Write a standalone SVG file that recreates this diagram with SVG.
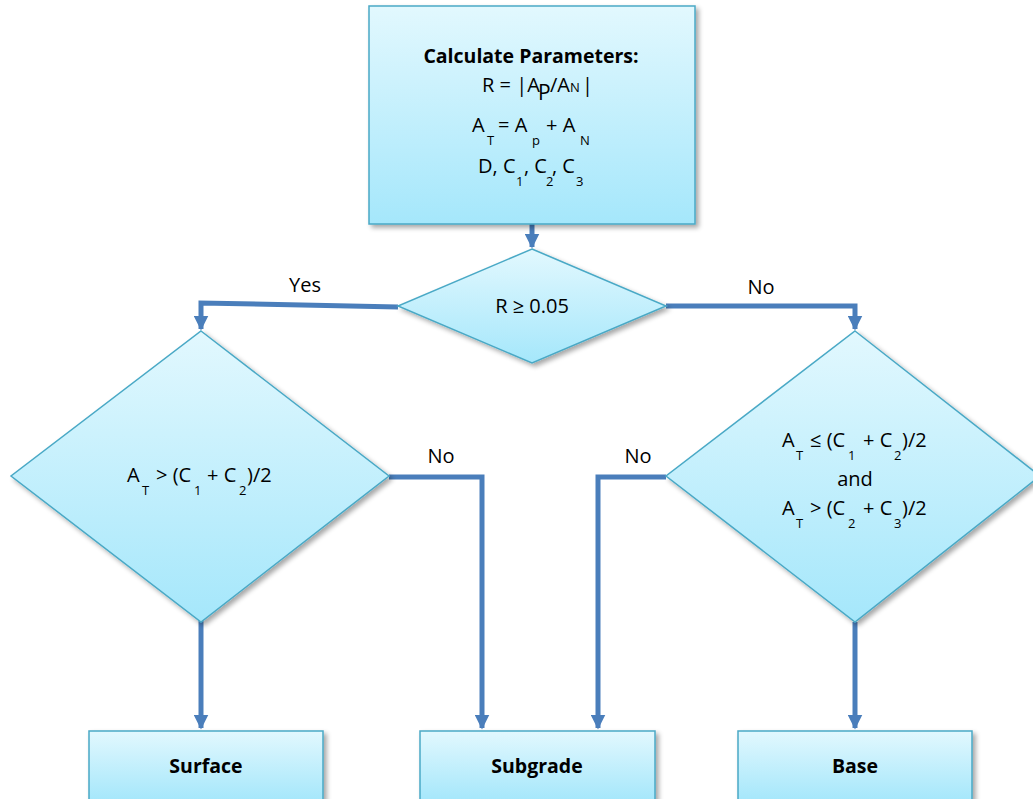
<svg xmlns="http://www.w3.org/2000/svg" width="1033" height="799" viewBox="0 0 1033 799">
<defs>
<linearGradient id="g" x1="0" y1="0" x2="0" y2="1">
<stop offset="0" stop-color="#e2f8fe"/>
<stop offset="1" stop-color="#a5e7fb"/>
</linearGradient>
<filter id="sh" x="-10%" y="-10%" width="130%" height="130%">
<feGaussianBlur in="SourceAlpha" stdDeviation="2.5"/>
<feOffset dx="3" dy="3"/>
<feComponentTransfer><feFuncA type="linear" slope="0.35"/></feComponentTransfer>
<feMerge><feMergeNode/><feMergeNode in="SourceGraphic"/></feMerge>
</filter>
<marker id="ah" viewBox="0 0 10 10" refX="9" refY="5" markerWidth="3" markerHeight="3" orient="auto" markerUnits="strokeWidth">
<path d="M0,0 L10,5 L0,10 z" fill="#4a7ebb"/>
</marker>
</defs>
<style>
.n{fill:url(#g);stroke:#4aa9c6;stroke-width:1.5;filter:url(#sh)}
.c{fill:none;stroke:#4a7ebb;stroke-width:5;marker-end:url(#ah)}
text{font-family:"Open Sans","Noto Sans","Liberation Sans",sans-serif;fill:#000;font-size:20px}
.b{font-weight:bold;font-size:19.5px}
.s{font-size:13px}
.m{text-anchor:middle}
</style>
<g id="connectors">
<path class="c" d="M532,224 V247"/>
<path class="c" d="M398,307 L201,303 V329"/>
<path class="c" d="M666,306 H855 V329"/>
<path class="c" d="M389,477 H482 V728"/>
<path class="c" d="M666,477 H598 V728"/>
<path class="c" d="M201,620 V728"/>
<path class="c" d="M855,622 V728"/>
<text class="m" x="305" y="292">Yes</text>
<text class="m" x="761" y="294">No</text>
<text class="m" x="441" y="463">No</text>
<text class="m" x="638" y="463">No</text>
</g>
<g id="params">
<rect class="n" x="369" y="6" width="326" height="218"/>
<text class="b m" x="531" y="63">Calculate Parameters:</text>
<text x="482" y="92">R = |A<tspan x="538" y="100" font-size="21">P</tspan><tspan x="550" y="92">/A</tspan><tspan x="570" y="92" class="s">N</tspan><tspan x="582" y="92">|</tspan></text>
<text x="472" y="132">A<tspan class="s" x="487" y="145">T</tspan><tspan x="498" y="132">= A</tspan><tspan class="s" x="532" y="145">p</tspan><tspan x="546" y="132">+ A</tspan><tspan class="s" x="580" y="145">N</tspan></text>
<text x="478" y="173">D, C<tspan class="s" x="516" y="186">1</tspan><tspan x="524" y="173">, C</tspan><tspan class="s" x="546" y="186">2</tspan><tspan x="552" y="173">, C</tspan><tspan class="s" x="576" y="186">3</tspan></text>
</g>
<g id="d1">
<polygon class="n" points="532,249 666,306 532,363 398,306"/>
<text class="m" x="532" y="313">R ≥ 0.05</text>
</g>
<g id="d2">
<polygon class="n" points="201,331 389,476 201,622 11,476"/>
<text x="127" y="482">A<tspan class="s" x="142" y="495">T</tspan><tspan x="156" y="482">&gt; (C</tspan><tspan class="s" x="194" y="495">1</tspan><tspan x="207" y="482">+ C</tspan><tspan class="s" x="239" y="495">2</tspan><tspan x="247" y="482">)/2</tspan></text>
</g>
<g id="d3">
<polygon class="n" points="855,331 1040,476 855,622 666,476"/>
<text x="782" y="447">A<tspan class="s" x="796" y="460">T</tspan><tspan x="810" y="447">≤ (C</tspan><tspan class="s" x="848" y="460">1</tspan><tspan x="863" y="447">+ C</tspan><tspan class="s" x="894" y="460">2</tspan><tspan x="902" y="447">)/2</tspan></text>
<text class="m" x="855" y="486">and</text>
<text x="782" y="515">A<tspan class="s" x="796" y="528">T</tspan><tspan x="810" y="515">&gt; (C</tspan><tspan class="s" x="848" y="528">2</tspan><tspan x="863" y="515">+ C</tspan><tspan class="s" x="894" y="528">3</tspan><tspan x="902" y="515">)/2</tspan></text>
</g>
<g id="surface">
<rect class="n" x="89" y="731" width="234" height="70"/>
<text class="b m" x="206" y="773">Surface</text>
</g>
<g id="subgrade">
<rect class="n" x="420" y="731" width="235" height="70"/>
<text class="b m" x="537" y="773">Subgrade</text>
</g>
<g id="base">
<rect class="n" x="738" y="731" width="234" height="70"/>
<text class="b m" x="855" y="773">Base</text>
</g>
</svg>
